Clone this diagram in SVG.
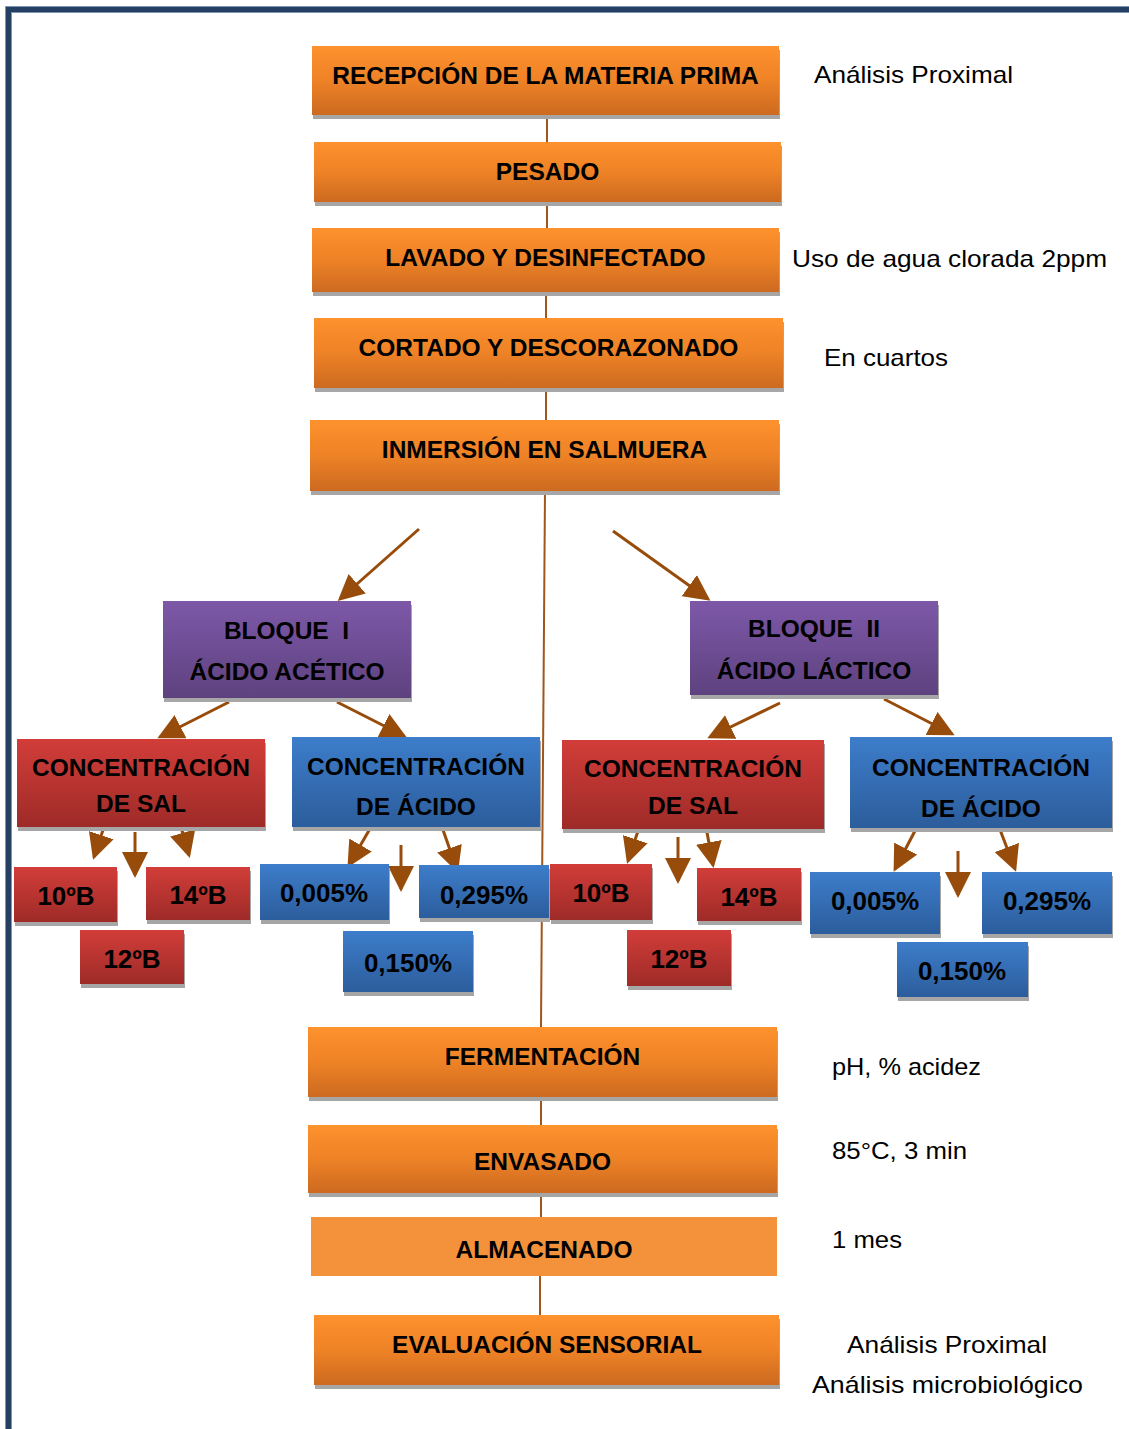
<svg xmlns="http://www.w3.org/2000/svg" width="1129" height="1429" viewBox="0 0 1129 1429">
<defs>
<linearGradient id="og" x1="0" y1="0" x2="0" y2="1"><stop offset="0" stop-color="#fe922d"/><stop offset="0.5" stop-color="#ee8226"/><stop offset="1" stop-color="#cc6a20"/></linearGradient>
<linearGradient id="pg" x1="0" y1="0" x2="0" y2="1"><stop offset="0" stop-color="#7d58a8"/><stop offset="1" stop-color="#5e427f"/></linearGradient>
<linearGradient id="rg" x1="0" y1="0" x2="0" y2="1"><stop offset="0" stop-color="#d23d39"/><stop offset="1" stop-color="#9e2b28"/></linearGradient>
<linearGradient id="bg" x1="0" y1="0" x2="0" y2="1"><stop offset="0" stop-color="#3d7dca"/><stop offset="1" stop-color="#2c5d9c"/></linearGradient>
<marker id="ah" markerUnits="userSpaceOnUse" markerWidth="26" markerHeight="26" viewBox="0 0 26 26" refX="23" refY="13" orient="auto"><path d="M0,0 L26,13 L0,26 z" fill="#974c0b"/></marker>
<clipPath id="clipBottom"><rect x="0" y="0" width="1129" height="1398"/></clipPath>
</defs>
<style>
.b{font-family:"Liberation Sans",Arial,sans-serif;font-weight:bold;font-size:24.5px;text-anchor:middle;fill:#000}
.k{font-size:26px}
.s{font-family:"Liberation Sans",Arial,sans-serif;font-size:24px;fill:#000}
.sh{fill:#a6a6a6}
.o{fill:url(#og)}
.p{fill:url(#pg)}
.r{fill:url(#rg)}
.u{fill:url(#bg)}
.ln{stroke:#a0561c;stroke-width:2;fill:none}
.ar{stroke:#974c0b;stroke-width:3;fill:none;marker-end:url(#ah)}
</style>
<rect width="1129" height="1429" fill="#fff"/>
<path d="M8.5,1429 V9.5 H1129" fill="none" stroke="#7e97b8" stroke-width="7"/>
<path d="M8.5,1429 V9.5 H1129" fill="none" stroke="#243f61" stroke-width="5"/>

<g id="connectors">
<line class="ln" x1="547" y1="115" x2="547" y2="142"/>
<line class="ln" x1="547" y1="202" x2="547" y2="228"/>
<line class="ln" x1="546" y1="292" x2="546" y2="318"/>
<line class="ln" x1="546" y1="388" x2="546" y2="420"/>
<line class="ln" x1="545" y1="491" x2="541" y2="1027"/>
<line class="ln" x1="541" y1="1097" x2="541" y2="1125"/>
<line class="ln" x1="541" y1="1193" x2="541" y2="1217"/>
<line class="ln" x1="540" y1="1276" x2="540" y2="1315"/>
<line class="ar" x1="419" y1="529" x2="340" y2="599"/>
<line class="ar" x1="613" y1="531" x2="708" y2="599"/>
<line class="ar" x1="229" y1="702" x2="160" y2="737"/>
<line class="ar" x1="337" y1="702" x2="404" y2="736"/>
<line class="ar" x1="780" y1="703" x2="710" y2="737"/>
<line class="ar" x1="884" y1="699" x2="952" y2="734"/>
<line class="ar" x1="104" y1="827" x2="94" y2="857"/>
<line class="ar" x1="135" y1="832" x2="135" y2="875"/>
<line class="ar" x1="181" y1="827" x2="189" y2="855"/>
<line class="ar" x1="371" y1="827" x2="349" y2="865"/>
<line class="ar" x1="401" y1="845" x2="401" y2="889"/>
<line class="ar" x1="442" y1="827" x2="457" y2="870"/>
<line class="ar" x1="641" y1="822" x2="628" y2="861"/>
<line class="ar" x1="678" y1="837" x2="678" y2="881"/>
<line class="ar" x1="706" y1="827" x2="713" y2="865"/>
<line class="ar" x1="917" y1="827" x2="895" y2="869"/>
<line class="ar" x1="958" y1="851" x2="958" y2="895"/>
<line class="ar" x1="999" y1="827" x2="1015" y2="869"/>
</g>

<g id="n-recepcion"><rect class="sh" x="313" y="50" width="467" height="69"/><rect class="o" x="312" y="46" width="467" height="69"/><text class="b" x="545.5" y="84">RECEPCIÓN DE LA MATERIA PRIMA</text></g>
<g id="n-pesado"><rect class="sh" x="315" y="146" width="467" height="60"/><rect class="o" x="314" y="142" width="467" height="60"/><text class="b" x="547.5" y="180">PESADO</text></g>
<g id="n-lavado"><rect class="sh" x="313" y="232" width="467" height="64"/><rect class="o" x="312" y="228" width="467" height="64"/><text class="b" x="545.5" y="266">LAVADO Y DESINFECTADO</text></g>
<g id="n-cortado"><rect class="sh" x="315" y="322" width="469" height="70"/><rect class="o" x="314" y="318" width="469" height="70"/><text class="b" x="548.5" y="356">CORTADO Y DESCORAZONADO</text></g>
<g id="n-inmersion"><rect class="sh" x="311" y="424" width="469" height="71"/><rect class="o" x="310" y="420" width="469" height="71"/><text class="b" x="544.5" y="458">INMERSIÓN EN SALMUERA</text></g>

<g id="n-bloque1"><rect class="sh" x="164" y="605" width="248" height="97"/><rect class="p" x="163" y="601" width="248" height="97"/><text class="b" x="286.5" y="639" xml:space="preserve">BLOQUE  I</text><text class="b" x="287" y="680">ÁCIDO ACÉTICO</text></g>
<g id="n-bloque2"><rect class="sh" x="691" y="605" width="248" height="94"/><rect class="p" x="690" y="601" width="248" height="94"/><text class="b" x="814" y="637" xml:space="preserve">BLOQUE  II</text><text class="b" x="814" y="679">ÁCIDO LÁCTICO</text></g>

<g id="n-sal1"><rect class="sh" x="18" y="743" width="248" height="88"/><rect class="r" x="17" y="739" width="248" height="88"/><text class="b" x="141" y="776">CONCENTRACIÓN</text><text class="b" x="141" y="812">DE SAL</text></g>
<g id="n-acido1"><rect class="sh" x="293" y="741" width="248" height="90"/><rect class="u" x="292" y="737" width="248" height="90"/><text class="b" x="416" y="775">CONCENTRACIÓN</text><text class="b" x="416" y="815">DE ÁCIDO</text></g>
<g id="n-10b1"><rect class="sh" x="15" y="871" width="103" height="55"/><rect class="r" x="14" y="867" width="103" height="55"/><text class="b k" x="66" y="905">10ºB</text></g>
<g id="n-14b1"><rect class="sh" x="147" y="871" width="104" height="53"/><rect class="r" x="146" y="867" width="104" height="53"/><text class="b k" x="198" y="904">14ºB</text></g>
<g id="n-12b1"><rect class="sh" x="81" y="934" width="104" height="54"/><rect class="r" x="80" y="930" width="104" height="54"/><text class="b k" x="132" y="968">12ºB</text></g>
<g id="n-a005-1"><rect class="sh" x="261" y="868" width="129" height="56"/><rect class="u" x="260" y="864" width="129" height="56"/><text class="b k" x="324" y="902">0,005%</text></g>
<g id="n-a295-1"><rect class="sh" x="420" y="869" width="130" height="53"/><rect class="u" x="419" y="865" width="130" height="53"/><text class="b k" x="484" y="904">0,295%</text></g>
<g id="n-a150-1"><rect class="sh" x="344" y="935" width="130" height="61"/><rect class="u" x="343" y="931" width="130" height="61"/><text class="b k" x="408" y="972">0,150%</text></g>

<g id="n-sal2"><rect class="sh" x="563" y="744" width="262" height="89"/><rect class="r" x="562" y="740" width="262" height="89"/><text class="b" x="693" y="777">CONCENTRACIÓN</text><text class="b" x="693" y="814">DE SAL</text></g>
<g id="n-acido2"><rect class="sh" x="851" y="741" width="262" height="91"/><rect class="u" x="850" y="737" width="262" height="91"/><text class="b" x="981" y="776">CONCENTRACIÓN</text><text class="b" x="981" y="817">DE ÁCIDO</text></g>
<g id="n-10b2"><rect class="sh" x="551" y="868" width="102" height="56"/><rect class="r" x="550" y="864" width="102" height="56"/><text class="b k" x="601" y="902">10ºB</text></g>
<g id="n-14b2"><rect class="sh" x="698" y="872" width="104" height="53"/><rect class="r" x="697" y="868" width="104" height="53"/><text class="b k" x="749" y="906">14ºB</text></g>
<g id="n-12b2"><rect class="sh" x="628" y="934" width="104" height="56"/><rect class="r" x="627" y="930" width="104" height="56"/><text class="b k" x="679" y="968">12ºB</text></g>
<g id="n-a005-2"><rect class="sh" x="811" y="876" width="130" height="62"/><rect class="u" x="810" y="872" width="130" height="62"/><text class="b k" x="875" y="910">0,005%</text></g>
<g id="n-a295-2"><rect class="sh" x="983" y="876" width="130" height="62"/><rect class="u" x="982" y="872" width="130" height="62"/><text class="b k" x="1047" y="910">0,295%</text></g>
<g id="n-a150-2"><rect class="sh" x="898" y="946" width="131" height="55"/><rect class="u" x="897" y="942" width="131" height="55"/><text class="b k" x="962" y="980">0,150%</text></g>

<g id="n-fermentacion"><rect class="sh" x="309" y="1031" width="469" height="70"/><rect class="o" x="308" y="1027" width="469" height="70"/><text class="b" x="542.5" y="1065">FERMENTACIÓN</text></g>
<g id="n-envasado"><rect class="sh" x="309" y="1129" width="469" height="68"/><rect class="o" x="308" y="1125" width="469" height="68"/><text class="b" x="542.5" y="1170">ENVASADO</text></g>
<g id="n-almacenado"><rect x="311" y="1217" width="466" height="59" fill="#f4913b"/><text class="b" x="544" y="1258">ALMACENADO</text></g>
<g id="n-evaluacion"><rect class="sh" x="315" y="1319" width="465" height="70"/><rect class="o" x="314" y="1315" width="465" height="70"/><text class="b" x="547" y="1353">EVALUACIÓN SENSORIAL</text></g>

<g id="labels">
<text class="s" x="814" y="83" textLength="199" lengthAdjust="spacingAndGlyphs">Análisis Proximal</text>
<text class="s" x="792" y="267" textLength="315" lengthAdjust="spacingAndGlyphs">Uso de agua clorada 2ppm</text>
<text class="s" x="824" y="366" textLength="124" lengthAdjust="spacingAndGlyphs">En cuartos</text>
<text class="s" x="832" y="1075" textLength="149" lengthAdjust="spacingAndGlyphs">pH, % acidez</text>
<text class="s" x="832" y="1159" textLength="135" lengthAdjust="spacingAndGlyphs">85°C, 3 min</text>
<text class="s" x="832" y="1248" textLength="70" lengthAdjust="spacingAndGlyphs">1 mes</text>
<text class="s" x="847" y="1353" textLength="200" lengthAdjust="spacingAndGlyphs">Análisis Proximal</text>
<text class="s" x="812" y="1393" textLength="271" lengthAdjust="spacingAndGlyphs" clip-path="url(#clipBottom)">Análisis microbiológico</text>
</g>
</svg>
